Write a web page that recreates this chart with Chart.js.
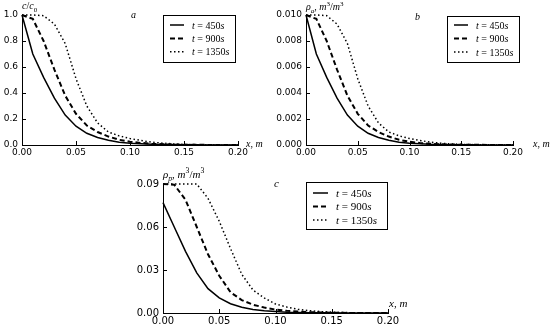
<!DOCTYPE html>
<html>
<head>
<meta charset="utf-8">
<script src="https://cdn.jsdelivr.net/npm/chart.js@4"></script>
<style>
  body { margin: 0; background: #fff; width: 550px; height: 326px; position: relative; overflow: hidden; }
  canvas { position: absolute; }
</style>
</head>
<body>
<canvas id="chartA" width="275" height="160" style="left:0;top:0"></canvas>
<canvas id="chartB" width="275" height="160" style="left:275px;top:0"></canvas>
<canvas id="chartC" width="290" height="166" style="left:130px;top:160px"></canvas>
<script>
/********** DATA **********/
const times = [450, 900, 1350];
const xValues = [0, 0.01, 0.02, 0.03, 0.04, 0.05, 0.06, 0.07, 0.08, 0.09, 0.10,
                 0.11, 0.12, 0.13, 0.14, 0.15, 0.16, 0.17, 0.18, 0.19, 0.20];
const xTicks = [0, 0.05, 0.10, 0.15, 0.20];

// a: c/c0
const concSolid  = [1.0, 0.70, 0.52, 0.36, 0.23, 0.145, 0.09, 0.058, 0.036, 0.022, 0.014, 0.009, 0.005, 0.003, 0.002, 0.001, 0.001, 0, 0, 0, 0];
const concDashed = [1.0, 0.97, 0.80, 0.58, 0.38, 0.24, 0.15, 0.10, 0.065, 0.04, 0.025, 0.016, 0.01, 0.006, 0.004, 0.002, 0.001, 0.001, 0, 0, 0];
const concDotted = [1.0, 1.0, 0.995, 0.93, 0.78, 0.51, 0.30, 0.17, 0.10, 0.07, 0.05, 0.035, 0.022, 0.014, 0.009, 0.005, 0.003, 0.002, 0.001, 0, 0];
const concTicks = [0, 0.2, 0.4, 0.6, 0.8, 1.0];

// b: rho_a
const rhoASolid  = [0.010, 0.0070, 0.0052, 0.0036, 0.0023, 0.00145, 0.0009, 0.00058, 0.00036, 0.00022, 0.00014, 0.00009, 0.00005, 0.00003, 0.00002, 0.00001, 0.00001, 0, 0, 0, 0];
const rhoADashed = [0.010, 0.0097, 0.0080, 0.0058, 0.0038, 0.0024, 0.0015, 0.0010, 0.00065, 0.0004, 0.00025, 0.00016, 0.0001, 0.00006, 0.00004, 0.00002, 0.00001, 0.00001, 0, 0, 0];
const rhoADotted = [0.010, 0.010, 0.00995, 0.0093, 0.0078, 0.0051, 0.0030, 0.0017, 0.0010, 0.0007, 0.0005, 0.00035, 0.00022, 0.00014, 0.00009, 0.00005, 0.00003, 0.00002, 0.00001, 0, 0];
const rhoATicks = [0, 0.002, 0.004, 0.006, 0.008, 0.010];

// c: rho_p
const rhoPSolid  = [0.077, 0.060, 0.043, 0.028, 0.017, 0.0105, 0.0065, 0.004, 0.0025, 0.0015, 0.001, 0.0006, 0.0004, 0.0002, 0.0001, 0.0001, 0, 0, 0, 0, 0];
const rhoPDashed = [0.09, 0.0895, 0.079, 0.060, 0.041, 0.026, 0.0145, 0.009, 0.0058, 0.0038, 0.0024, 0.0015, 0.001, 0.0006, 0.0004, 0.0002, 0.0001, 0, 0, 0, 0];
const rhoPDotted = [0.09, 0.09, 0.09, 0.09, 0.080, 0.064, 0.045, 0.027, 0.016, 0.0105, 0.0063, 0.0042, 0.0026, 0.0016, 0.001, 0.0006, 0.0003, 0.0002, 0.0001, 0, 0];
const rhoPTicks = [0, 0.03, 0.06, 0.09];

/********** HELPERS **********/
const SERIF = '"Liberation Serif", "DejaVu Serif", serif';
const SANS = '"DejaVu Sans", sans-serif';
const lineStyles = [
  { borderWidth: 1.5, borderDash: [] },
  { borderWidth: 2, borderDash: [5, 3] },
  { borderWidth: 1.5, borderDash: [1.5, 2.5] }
];

// draws text made of italic / sub / sup pieces
function drawRich(ctx, segs, x, y, size) {
  ctx.save();
  ctx.fillStyle = '#000';
  ctx.textAlign = 'left';
  ctx.textBaseline = 'alphabetic';
  segs.forEach(s => {
    let sz = size, dy = 0;
    if (s.sub) { sz = size * 0.7; dy = size * 0.25; }
    if (s.sup) { sz = size * 0.7; dy = -size * 0.42; }
    ctx.font = (s.i ? 'italic ' : '') + sz + 'px ' + SERIF;
    ctx.fillText(s.t, x, y + dy);
    x += ctx.measureText(s.t).width;
  });
  ctx.restore();
}

const decor = {
  id: 'decor',
  afterDraw(chart, args, o) {
    const ctx = chart.ctx;
    const xs = chart.scales.x, ys = chart.scales.y;
    ctx.save();
    ctx.strokeStyle = '#000';
    ctx.lineWidth = 1;
    // inward tick marks
    ctx.beginPath();
    xs.ticks.forEach(t => {
      const px = Math.round(xs.getPixelForValue(t.value)) + 0.5;
      ctx.moveTo(px, xs.top); ctx.lineTo(px, xs.top - 4);
    });
    ys.ticks.forEach(t => {
      const py = Math.round(ys.getPixelForValue(t.value)) + 0.5;
      ctx.moveTo(ys.right, py); ctx.lineTo(ys.right + 4, py);
    });
    ctx.stroke();
    // legend box
    const L = o.legend;
    ctx.strokeRect(L.x + 0.5, L.y + 0.5, L.w, L.h);
    chart.data.datasets.forEach((ds, i) => {
      const yy = L.y + L.row0 + i * L.step;
      ctx.setLineDash(ds.borderDash);
      ctx.lineWidth = ds.borderWidth;
      ctx.beginPath();
      ctx.moveTo(L.x + L.sx, yy); ctx.lineTo(L.x + L.sx + L.sw, yy);
      ctx.stroke();
      ctx.setLineDash([]);
      drawRich(ctx, [{ t: 't', i: true }, { t: ' = ' + ds.time }, { t: 's', i: true }],
        L.x + L.tx, yy + L.fs * 0.35, L.fs);
    });
    ctx.restore();
    drawRich(ctx, o.yTitle, o.yTitlePos[0], o.yTitlePos[1], o.fs);
    drawRich(ctx, [{ t: 'x', i: true }, { t: ', ' }, { t: 'm', i: true }], o.xTitlePos[0], o.xTitlePos[1], o.fs);
    drawRich(ctx, [{ t: o.letter, i: true }], o.letterPos[0], o.letterPos[1], o.fs);
  }
};

function makeChart(id, series, yMax, yStep, yDigits, yTicks, box, tickSize, deco) {
  const datasets = series.map((vals, i) => ({
    label: 't = ' + times[i] + 's',
    time: times[i],
    data: xValues.map((x, k) => ({ x: x, y: vals[k] })),
    borderColor: '#000',
    borderWidth: lineStyles[i].borderWidth,
    borderDash: lineStyles[i].borderDash,
    pointRadius: 0,
    tension: 0,
    fill: false,
    clip: false
  }));
  const canvas = document.getElementById(id);
  return new Chart(canvas.getContext('2d'), {
    type: 'line',
    data: { datasets: datasets },
    options: {
      responsive: false,
      animation: false,
      events: [],
      layout: { padding: { top: box.top, right: canvas.width - box.right, left: 0, bottom: 0 } },
      plugins: { legend: { display: false }, tooltip: { enabled: false }, decor: deco },
      scales: {
        x: {
          type: 'linear',
          min: 0, max: 0.2,
          afterBuildTicks: s => { s.ticks = xTicks.map(v => ({ value: v })); },
          afterFit: s => { s.height = canvas.height - box.bottom; },
          grid: { display: true, drawOnChartArea: false, drawTicks: false },
          border: { display: true, color: '#000', width: 1 },
          ticks: { color: '#000', padding: 2, maxRotation: 0, autoSkip: false,
                   font: { family: SANS, size: tickSize }, callback: v => v.toFixed(2) }
        },
        y: {
          type: 'linear',
          min: 0, max: yMax,
          afterBuildTicks: s => { s.ticks = yTicks.map(v => ({ value: v })); },
          afterFit: s => { s.width = box.left; },
          grid: { display: true, drawOnChartArea: false, drawTicks: false },
          border: { display: true, color: '#000', width: 1 },
          ticks: { color: '#000', padding: 4, autoSkip: false,
                   font: { family: SANS, size: tickSize }, callback: v => v.toFixed(yDigits) }
        }
      }
    },
    plugins: [decor]
  });
}

/********** CHARTS **********/
makeChart('chartA', [concSolid, concDashed, concDotted], 1.0, 0.2, 1, concTicks,
  { left: 22, right: 238, top: 15, bottom: 145 }, 9, {
    fs: 10,
    yTitle: [{ t: 'c', i: true }, { t: '/' }, { t: 'c', i: true }, { t: '0', sub: true }],
    yTitlePos: [22, 9],
    xTitlePos: [246, 147],
    letter: 'a', letterPos: [131, 18],
    legend: { x: 163, y: 15, w: 72, h: 47, row0: 10, step: 13.4, sx: 7, sw: 14, tx: 29, fs: 10 }
  });

makeChart('chartB', [rhoASolid, rhoADashed, rhoADotted], 0.010, 0.002, 3, rhoATicks,
  { left: 31, right: 238, top: 15, bottom: 145 }, 9, {
    fs: 10,
    yTitle: [{ t: 'ρ', i: true }, { t: 'a', i: true, sub: true }, { t: ', ' }, { t: 'm', i: true },
             { t: '3', sup: true }, { t: '/' }, { t: 'm', i: true }, { t: '3', sup: true }],
    yTitlePos: [31, 10],
    xTitlePos: [258, 147],
    letter: 'b', letterPos: [140, 20],
    legend: { x: 172, y: 16, w: 72, h: 46, row0: 9, step: 13.5, sx: 7, sw: 14, tx: 29, fs: 10 }
  });

makeChart('chartC', [rhoPSolid, rhoPDashed, rhoPDotted], 0.09, 0.03, 2, rhoPTicks,
  { left: 33, right: 258, top: 24, bottom: 153 }, 10, {
    fs: 11,
    yTitle: [{ t: 'ρ', i: true }, { t: 'p', i: true, sub: true }, { t: ', ' }, { t: 'm', i: true },
             { t: '3', sup: true }, { t: '/' }, { t: 'm', i: true }, { t: '3', sup: true }],
    yTitlePos: [33, 18],
    xTitlePos: [259, 147],
    letter: 'c', letterPos: [144, 27],
    legend: { x: 176, y: 22, w: 81, h: 47, row0: 11, step: 13.5, sx: 7, sw: 15, tx: 30, fs: 11 }
  });
</script>
</body>
</html>
